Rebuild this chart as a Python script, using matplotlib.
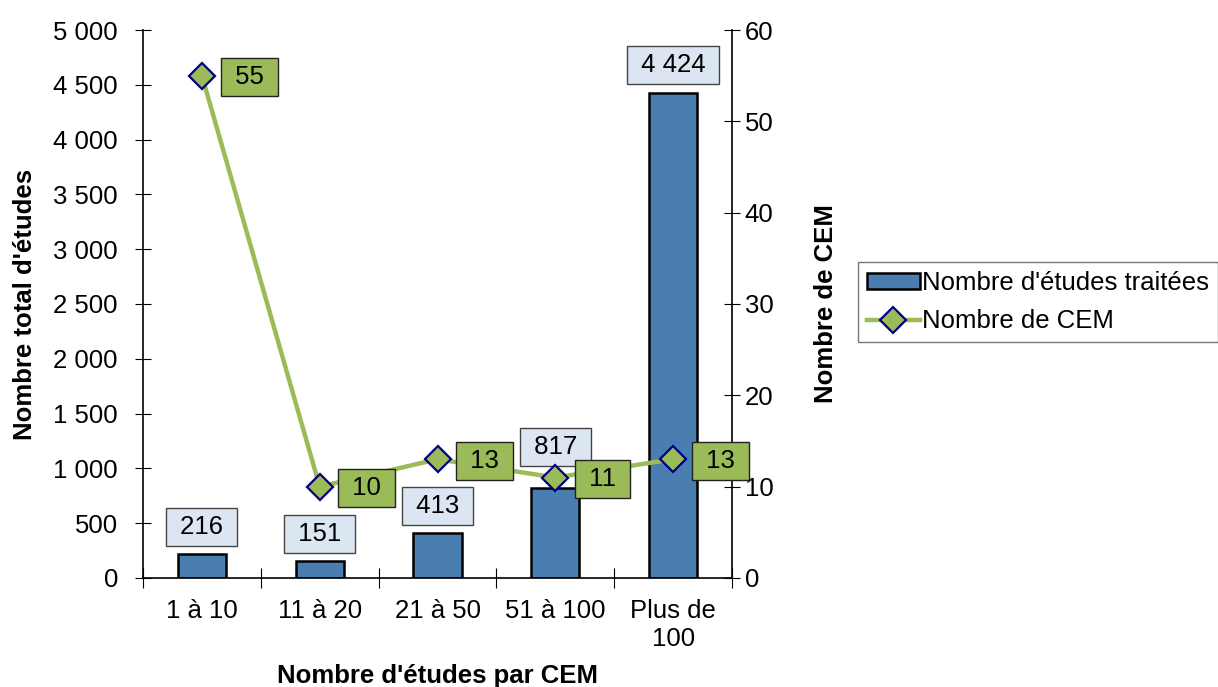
import matplotlib.pyplot as plt
import matplotlib.ticker as mticker

plt.rcParams['font.family'] = ['Liberation Sans', 'DejaVu Sans']

categories = ['1 à 10', '11 à 20', '21 à 50', '51 à 100', 'Plus de\n100']
etudes = [216, 151, 413, 817, 4424]
cem = [55, 10, 13, 11, 13]

BLUE = '#4a7eb0'
GREEN = '#9bbb59'
NAVY = '#000080'
FS = 18.5

# vertical offset (points) of each bar label above its bar
bar_label_dy = [19.5, 19.5, 19.5, 30, 20]

def fmt_space(v, pos=None):
    return f'{int(v):,}'.replace(',', ' ')

fig = plt.figure(figsize=(12.18, 6.87), dpi=100)
ax = fig.add_axes([0.1174, 0.1587, 0.4836, 0.7976])
ax2 = ax.twinx()

x = range(len(categories))
bars = ax.bar(x, etudes, width=0.41, color=BLUE, edgecolor='black', linewidth=1.8,
              label="Nombre d'études traitées", zorder=2)
ax.set_xlim(-0.5, len(categories) - 0.5)
ax.set_ylim(0, 5000)
ax.yaxis.set_major_locator(mticker.MultipleLocator(500))
ax.yaxis.set_major_formatter(mticker.FuncFormatter(fmt_space))
# ticks between the groups, labels centred under each group
ax.set_xticks([i + 0.5 for i in range(-1, len(categories))])
ax.set_xticklabels([])
ax.set_xticks(list(x), minor=True)
ax.set_xticklabels(categories, minor=True)
ax.tick_params(axis='x', which='minor', length=0, labelsize=FS, pad=15)
ax.tick_params(axis='x', which='major', direction='inout', length=14)
ax.tick_params(axis='y', direction='inout', length=12, labelsize=FS, pad=12)

for i, v in enumerate(etudes):
    ax.annotate(' ' + fmt_space(v) + ' ', (i, v), xytext=(0, bar_label_dy[i]),
                textcoords='offset points', ha='center', va='center', fontsize=FS, zorder=5,
                bbox=dict(boxstyle='square,pad=0.27', fc='#dce6f2', ec='#444444', lw=1))

line, = ax2.plot(list(x), cem, color=GREEN, lw=3.2, marker='D', markersize=13.5,
                 markerfacecolor=GREEN, markeredgecolor=NAVY, markeredgewidth=1.6,
                 label='Nombre de CEM', zorder=3)
ax2.set_ylim(0, 60)
ax2.yaxis.set_major_locator(mticker.MultipleLocator(10))
ax2.tick_params(axis='y', direction='inout', length=12, labelsize=FS, pad=3)

for i, v in enumerate(cem):
    ax2.annotate(' ' + str(v) + ' ', (i, v), xytext=(34, -1), textcoords='offset points',
                 ha='center', va='center', fontsize=FS, zorder=6,
                 bbox=dict(boxstyle='square,pad=0.27', fc=GREEN, ec='#222222', lw=1))

for a in (ax, ax2):
    for s in a.spines.values():
        s.set_visible(False)
ax.spines['left'].set_visible(True)
ax.spines['bottom'].set_visible(True)
ax2.spines['right'].set_visible(True)
for s in (ax.spines['left'], ax.spines['bottom'], ax2.spines['right']):
    s.set_linewidth(1.2)

ax.set_xlabel("Nombre d'études par CEM", fontsize=FS, fontweight='bold', labelpad=10)
ax.set_ylabel("Nombre total d'études", fontsize=FS, fontweight='bold', labelpad=12)
ax2.set_ylabel('Nombre de CEM', fontsize=FS, fontweight='bold', labelpad=29)

fig.legend([bars, line], ["Nombre d'études traitées", 'Nombre de CEM'],
           loc='upper left', bbox_to_anchor=(858 / 1218, 1 - 262 / 687),
           fontsize=FS, frameon=True, fancybox=False, edgecolor='#555555',
           handlelength=2.05, handleheight=0.6, handletextpad=0.1, borderpad=0.35,
           labelspacing=0.55, borderaxespad=0)

fig.savefig('out.png', dpi=100)
